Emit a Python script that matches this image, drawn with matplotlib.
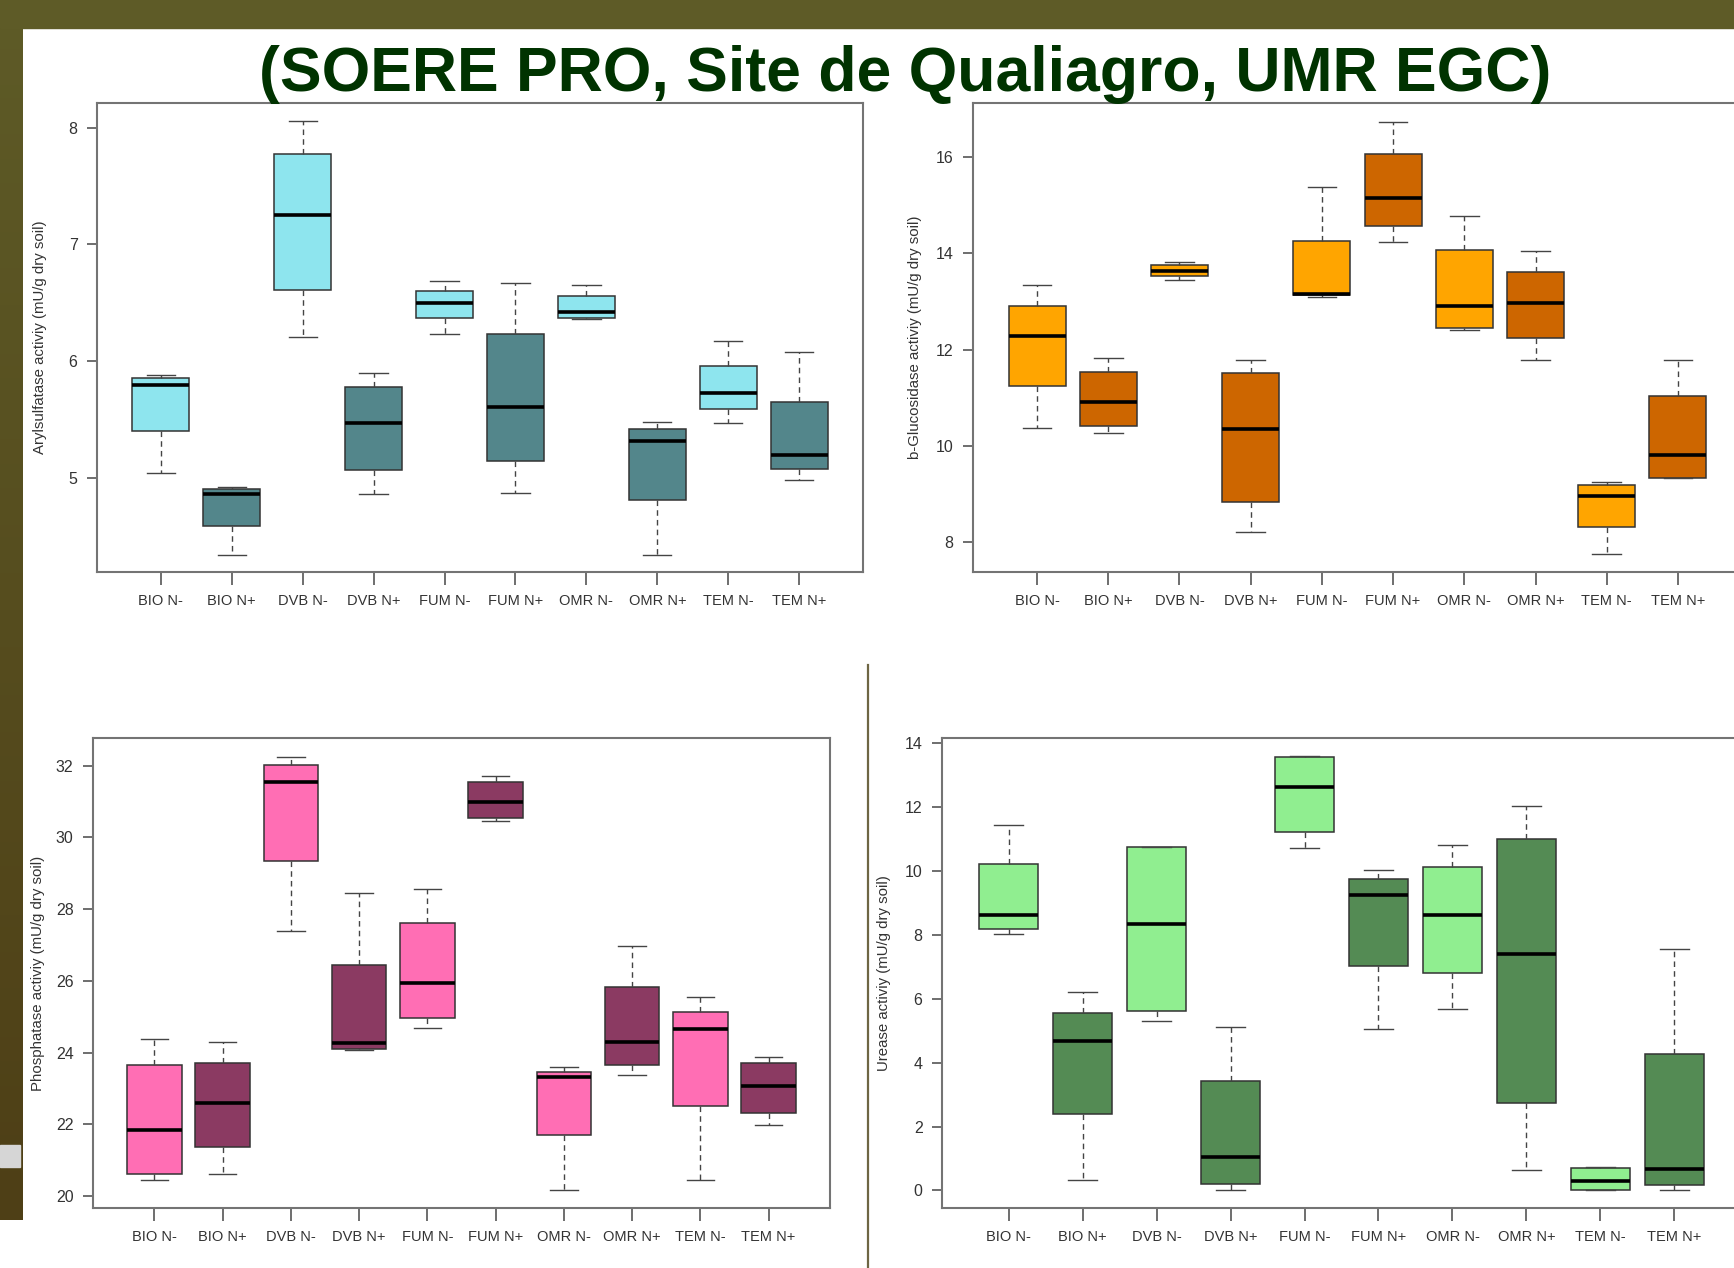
import numpy as np
import matplotlib
matplotlib.use('Agg')
import matplotlib.pyplot as plt
from matplotlib import font_manager
from matplotlib.colors import LinearSegmentedColormap
from matplotlib.patches import Rectangle

# Treatments (same on every panel)
groups = ['BIO N-', 'BIO N+', 'DVB N-', 'DVB N+', 'FUM N-',
          'FUM N+', 'OMR N-', 'OMR N+', 'TEM N-', 'TEM N+']

# Arylsulfatase: lower whisker, Q1, median, Q3, upper whisker
aryl_low = [5.04, 4.34, 6.21, 4.86, 6.23, 4.87, 6.36, 4.34, 5.47, 4.98]
aryl_q1 = [5.40, 4.59, 6.61, 5.07, 6.37, 5.15, 6.37, 4.81, 5.59, 5.08]
aryl_med = [5.80, 4.86, 7.25, 5.47, 6.50, 5.61, 6.42, 5.32, 5.73, 5.20]
aryl_q3 = [5.86, 4.91, 7.77, 5.78, 6.60, 6.23, 6.56, 5.42, 5.96, 5.65]
aryl_high = [5.88, 4.92, 8.06, 5.90, 6.69, 6.67, 6.65, 5.48, 6.17, 6.08]

# b-Glucosidase
gluc_low = [10.36, 10.26, 13.44, 8.21, 13.10, 14.24, 12.40, 11.78, 7.74, 9.32]
gluc_q1 = [11.25, 10.40, 13.52, 8.82, 13.13, 14.58, 12.45, 12.24, 8.30, 9.32]
gluc_med = [12.29, 10.91, 13.64, 10.34, 13.16, 15.15, 12.90, 12.96, 8.96, 9.80]
gluc_q3 = [12.90, 11.54, 13.76, 11.52, 14.26, 16.07, 14.07, 13.62, 9.18, 11.03]
gluc_high = [13.35, 11.83, 13.82, 11.78, 15.38, 16.74, 14.77, 14.04, 9.25, 11.78]

# Phosphatase
phos_low = [20.45, 20.61, 27.39, 24.07, 24.69, 30.45, 20.18, 23.37, 20.45, 21.97]
phos_q1 = [20.61, 21.36, 29.33, 24.09, 24.96, 30.54, 21.71, 23.66, 22.51, 22.31]
phos_med = [21.84, 22.60, 31.53, 24.26, 25.93, 30.98, 23.31, 24.30, 24.67, 23.08]
phos_q3 = [23.66, 23.70, 32.02, 26.44, 27.60, 31.53, 23.47, 25.83, 25.14, 23.70]
phos_high = [24.39, 24.30, 32.25, 28.46, 28.57, 31.71, 23.61, 26.96, 25.56, 23.87]

# Urease
ure_low = [8.04, 0.34, 5.32, 0.01, 10.72, 5.06, 5.67, 0.65, 0.01, 0.01]
ure_q1 = [8.19, 2.39, 5.63, 0.19, 11.22, 7.04, 6.80, 2.74, 0.01, 0.18]
ure_med = [8.62, 4.69, 8.36, 1.06, 12.64, 9.26, 8.62, 7.41, 0.30, 0.67]
ure_q3 = [10.22, 5.57, 10.75, 3.42, 13.56, 9.75, 10.12, 11.01, 0.69, 4.26]
ure_high = [11.45, 6.20, 10.75, 5.11, 13.60, 10.05, 10.83, 12.03, 0.72, 7.55]

W, H = 1734, 1268

# narrow font is used only when installed, otherwise plain Liberation Sans
installed = {f.name for f in font_manager.fontManager.ttflist}
has_narrow = 'Liberation Sans Narrow' in installed
if has_narrow:
    tick_font = ['Liberation Sans Narrow', 'DejaVu Sans']
    xtick_size, ytick_size = 13, 12.5
else:
    tick_font = ['Liberation Sans', 'DejaVu Sans']
    xtick_size, ytick_size = 10.5, 11.5
label_font = ['Liberation Sans', 'DejaVu Sans']

fig = plt.figure(figsize=(W / 100, H / 100), dpi=100)
fig.patch.set_facecolor('white')

# slide background: olive top bar, dark left stripe, separator line
bg = fig.add_axes([0, 0, 1, 1], zorder=-10)
bg.set_xlim(0, W)
bg.set_ylim(H, 0)
bg.axis('off')
stripe = LinearSegmentedColormap.from_list('stripe', ['#5E5B27', '#4E3F16'])
bg.imshow(np.linspace(0, 1, 100).reshape(-1, 1), cmap=stripe, aspect='auto',
          extent=(0, 23, 1220, 0), zorder=1)
bg.add_patch(Rectangle((0, 0), W, 28, color='#5E5B27', zorder=2))
bg.add_patch(Rectangle((0, 1145), 20, 22, color='#D6D6D6', zorder=2))
bg.plot([868, 868], [665, H], color='#6E6644', linewidth=1.6, zorder=2)

# title
if has_narrow:
    fig.text(905 / W, 1 - 91 / H, '(SOERE PRO, Site de Qualiagro, UMR EGC)',
             ha='center', va='baseline', fontsize=54.5, fontweight='bold',
             color='#003300', family=['Liberation Sans Narrow', 'DejaVu Sans'])
else:
    fig.text(905 / W, 1 - 91 / H, '(SOERE PRO, Site de Qualiagro, UMR EGC)',
             ha='center', va='baseline', fontsize=45, fontweight='bold',
             color='#003300', family=['Liberation Sans', 'DejaVu Sans'])


def draw_panel(rect, low, q1, med, q3, high, light, dark, ylim, yticks, ylabel, label_px):
    left, top, right, bottom = rect
    ax = fig.add_axes([left / W, 1 - bottom / H, (right - left) / W, (bottom - top) / H])
    stats = []
    for i in range(len(groups)):
        stats.append({'whislo': low[i], 'q1': q1[i], 'med': med[i],
                      'q3': q3[i], 'whishi': high[i], 'label': groups[i]})
    bp = ax.bxp(stats, positions=range(1, 11), widths=0.8, capwidths=0.4,
                patch_artist=True, showfliers=False, manage_ticks=False,
                boxprops=dict(edgecolor='#333333', linewidth=1.1),
                medianprops=dict(color='black', linewidth=2.6),
                whiskerprops=dict(color='#444444', linewidth=1.0, linestyle=(0, (4, 3))),
                capprops=dict(color='#444444', linewidth=1.0))
    for i, box in enumerate(bp['boxes']):
        box.set_facecolor(light if i % 2 == 0 else dark)

    ax.set_xlim(0.1, 10.9)
    ax.set_ylim(*ylim)
    ax.set_xticks(range(1, 11))
    ax.set_xticklabels(groups, family=tick_font, fontsize=xtick_size, color='#333333')
    ax.set_yticks(yticks)
    ax.set_yticklabels([str(v) for v in yticks], family=tick_font, fontsize=ytick_size,
                       color='#333333')
    ax.tick_params(axis='x', length=9, width=1.2, color='#555555', pad=7)
    ax.tick_params(axis='y', length=7, width=1.2, color='#555555', pad=7)
    for sp in ax.spines.values():
        sp.set_color('#747474')
        sp.set_linewidth(1.5)
    ax.set_ylabel(ylabel, family=label_font, fontsize=10.8, color='#333333')
    ax.yaxis.set_label_coords(-label_px / (right - left), 0.5)
    return ax


draw_panel((97, 103, 863, 572), aryl_low, aryl_q1, aryl_med, aryl_q3, aryl_high,
           '#8EE5EE', '#53868B', (4.196, 8.21), [5, 6, 7, 8],
           'Arylsulfatase activiy (mU/g dry soil)', 50)
draw_panel((973, 103, 1742, 572), gluc_low, gluc_q1, gluc_med, gluc_q3, gluc_high,
           '#FFA500', '#CD6600', (7.37, 17.13), [8, 10, 12, 14, 16],
           'b-Glucosidase activiy (mU/g dry soil)', 51)
draw_panel((93, 738, 830, 1208), phos_low, phos_q1, phos_med, phos_q3, phos_high,
           '#FF6EB4', '#8B3A62', (19.67, 32.77), [20, 22, 24, 26, 28, 30, 32],
           'Phosphatase activiy (mU/g dry soil)', 48)
draw_panel((942, 738, 1741, 1208), ure_low, ure_q1, ure_med, ure_q3, ure_high,
           '#90EE90', '#548B54', (-0.55, 14.17), [0, 2, 4, 6, 8, 10, 12, 14],
           'Urease activiy (mU/g dry soil)', 51)

plt.savefig('out.png', dpi=100)
plt.close()
